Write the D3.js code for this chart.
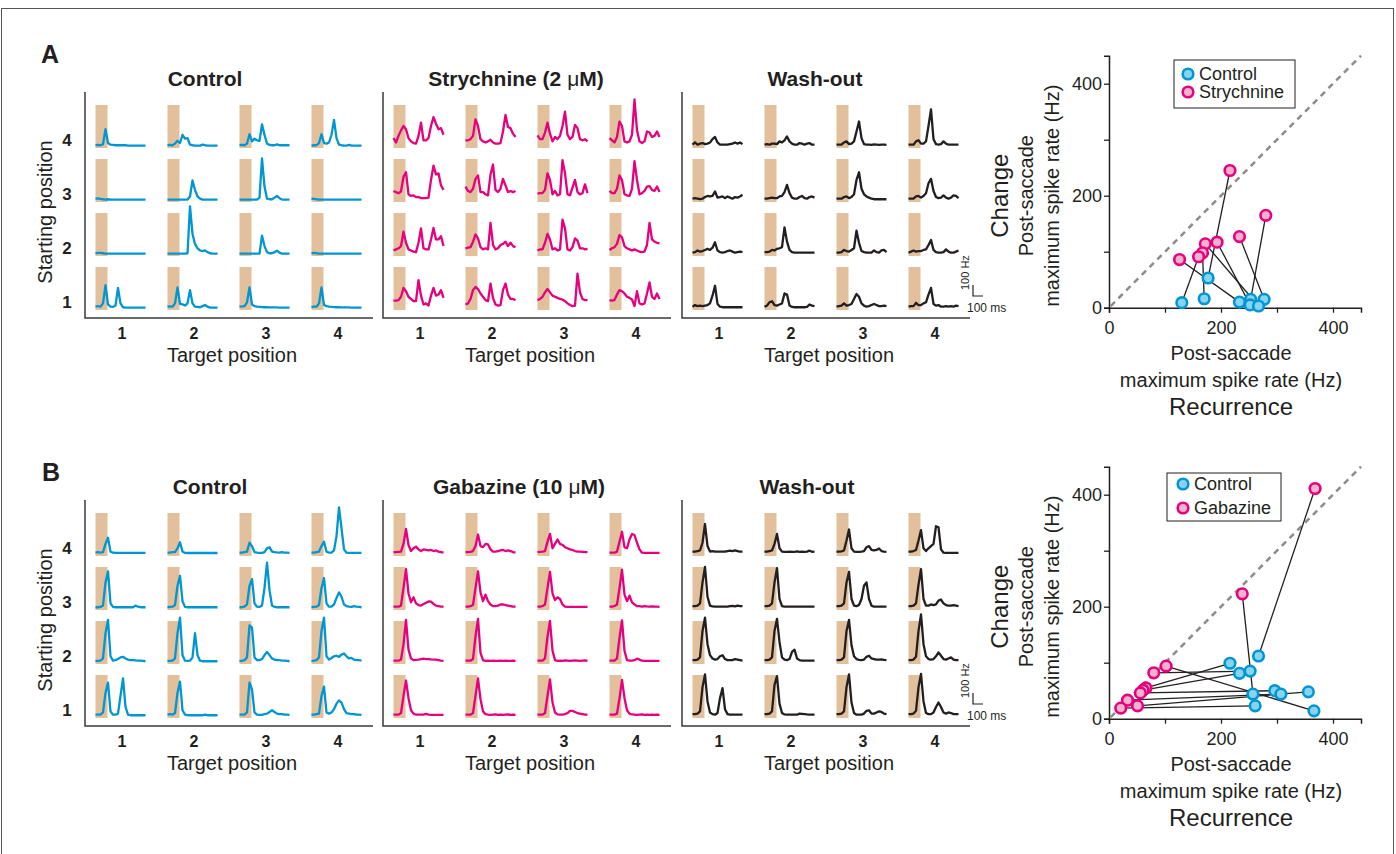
<!DOCTYPE html>
<html>
<head>
<meta charset="utf-8">
<script src="https://cdn.jsdelivr.net/npm/d3@7"></script>
<style>
    body { margin: 0; background: #fff; }
    svg text { font-family: "Liberation Sans", Arial, Helvetica, sans-serif; fill: #231f20; }
</style>
</head>
<body>
<div id="chart"></div>
<script>
'use strict';

/*
Data
 */

// Trace grids: rows = starting position 4 -> 1 (top to bottom), cols = target position 1 -> 4
const startPositions = [4, 3, 2, 1];
const targetPositions = [1, 2, 3, 4];
const sampleTimes = d3.range(0, 501, 25); // ms, 21 samples per trace
const saccadeWindow = [0, 120]; // ms, shaded box

// Spike rate (Hz) per sample
const controlA = [
    [[25,28,25,35,170,45,30,28,25,25,25,25,25,22,22,22,22,22,22,22,22],
     [25,28,25,40,65,45,120,85,90,30,25,22,22,22,30,25,22,22,22,22,22],
     [27,28,25,40,125,60,85,70,65,215,120,40,28,25,25,32,25,25,25,25,25],
     [22,25,25,45,125,45,40,50,120,255,90,30,25,22,22,28,22,22,22,22,22]],
    [[30,32,28,25,22,25,22,22,22,22,22,22,22,22,22,22,22,22,22,22,22],
     [22,22,22,22,22,22,22,22,22,50,195,110,50,30,22,22,22,22,22,22,22],
     [22,22,22,22,22,22,22,22,40,395,140,30,25,25,40,55,35,22,22,22,22],
     [30,28,25,22,22,22,22,22,22,22,22,22,22,22,22,22,22,22,22,22,22]],
    [[25,28,28,25,22,22,22,22,22,22,22,22,22,22,22,22,22,22,22,22,22],
     [22,22,22,22,22,22,22,22,25,450,200,110,70,50,45,50,35,25,22,22,22],
     [22,22,22,22,22,22,22,22,22,185,90,35,25,25,35,48,30,22,22,22,22],
     [25,28,25,22,22,22,22,22,22,22,22,22,22,22,22,22,22,22,22,22,22]],
    [[30,35,30,60,225,50,30,28,40,200,60,25,22,22,22,22,22,22,22,22,22],
     [30,32,30,60,205,55,52,40,60,180,60,30,28,25,35,45,30,22,22,22,22],
     [30,32,35,70,205,50,35,30,28,26,25,25,24,24,23,23,22,22,22,22,22],
     [25,30,30,60,205,45,35,30,28,26,25,25,24,24,23,23,22,22,22,22,22]]
];
const strychnineA = [
    [[90,50,110,160,200,170,90,60,45,40,110,230,70,70,90,200,280,220,170,180,120],
     [70,70,80,110,260,200,80,60,50,60,75,50,40,40,45,150,300,190,180,130,100],
     [115,80,80,140,230,130,60,100,80,110,200,330,120,80,100,210,180,80,70,80,60],
     [90,70,50,100,240,200,60,50,60,120,440,160,60,45,60,150,140,100,110,150,100]],
    [[100,90,80,95,230,270,70,55,60,45,45,35,35,35,40,200,330,250,260,150,110],
     [140,100,90,120,210,240,90,90,70,60,250,340,110,90,120,210,150,90,100,90,100],
     [75,80,80,110,260,200,70,100,60,70,380,260,70,60,130,200,90,70,80,160,80],
     [100,80,80,120,240,200,70,60,55,120,370,200,70,80,100,140,145,110,100,140,90]],
    [[50,60,70,90,220,120,60,50,40,35,120,250,70,60,60,150,255,150,150,180,90],
     [70,75,80,130,195,160,80,60,70,60,300,100,60,70,100,110,130,90,120,90,80],
     [50,60,60,120,200,150,60,70,50,60,330,250,60,50,80,160,140,70,70,60,65],
     [55,70,80,110,190,170,90,70,60,50,60,50,40,35,40,100,300,150,130,120,115]],
    [[85,85,90,120,200,170,120,100,80,80,270,130,50,60,40,130,200,130,140,180,110],
     [50,60,100,180,210,190,150,120,90,80,240,110,50,40,45,180,240,140,100,100,90],
     [90,100,120,160,190,160,130,120,110,100,95,80,60,45,35,40,330,160,100,90,90],
     [90,85,90,140,180,170,150,120,110,95,35,170,60,50,60,150,250,120,100,150,100]]
];
const washoutA = [
    [[30,50,30,40,45,35,40,50,80,100,50,30,30,30,30,35,40,50,40,50,35],
     [30,35,30,40,40,35,60,50,70,105,60,40,30,30,45,40,30,40,45,30,30],
     [30,30,30,50,60,35,40,60,150,240,90,35,30,30,28,32,30,28,30,30,28],
     [30,30,30,60,70,40,40,60,200,350,80,35,30,35,60,40,30,30,30,30,30]],
    [[30,35,30,25,30,45,55,50,55,95,40,45,50,35,50,40,30,45,40,50,65],
     [30,30,35,40,35,35,50,55,90,155,80,40,30,30,45,55,35,30,45,50,40],
     [30,30,30,45,50,35,45,70,200,270,120,70,50,40,30,25,25,25,25,25,25],
     [30,30,30,50,55,40,55,80,170,210,100,45,35,40,60,40,30,40,60,55,35]],
    [[30,35,50,40,45,55,65,55,75,125,50,35,30,35,45,50,40,30,35,40,35],
     [35,35,40,55,50,65,70,80,260,130,55,35,30,30,30,30,30,30,30,30,30],
     [30,30,35,55,45,40,55,70,230,120,45,35,30,30,30,50,35,30,50,55,35],
     [30,40,50,40,45,45,55,60,100,145,55,35,30,30,35,60,40,30,30,40,50]],
    [[30,45,35,40,35,40,45,60,130,220,55,30,25,25,25,25,25,25,25,25,25],
     [30,40,70,80,45,40,50,60,150,140,40,28,25,25,25,25,25,28,50,40,35],
     [30,35,40,60,40,45,55,100,145,120,60,40,30,35,45,55,45,35,35,40,35],
     [30,35,35,65,45,45,60,70,140,200,55,40,45,30,30,35,30,35,30,40,35]]
];
const controlB = [
    [[30,35,30,35,110,165,40,30,28,28,28,28,28,28,28,28,28,28,28,28,28],
     [30,30,35,35,70,125,40,28,27,27,27,27,27,27,27,27,27,27,27,27,27],
     [30,30,35,40,120,90,35,30,28,28,35,70,80,40,35,32,30,35,30,30,28],
     [30,30,35,40,90,130,40,30,30,50,180,440,250,60,30,28,28,28,28,28,28]],
    [[25,25,28,40,250,350,60,28,25,25,25,25,25,25,25,25,40,30,25,25,25],
     [25,28,30,45,220,310,80,28,25,25,25,25,25,25,25,25,25,25,25,25,25],
     [25,25,30,50,220,280,60,30,28,40,200,430,180,40,28,25,25,25,25,25,25],
     [25,28,30,45,200,290,60,30,30,50,110,160,120,50,35,30,28,35,30,28,25]],
    [[28,28,30,50,280,400,70,30,35,45,60,65,50,40,35,35,32,30,30,28,25],
     [28,28,30,50,280,420,80,30,28,30,60,280,80,30,25,25,25,25,25,25,25],
     [28,28,35,60,350,330,60,35,35,45,80,110,80,50,40,35,35,30,30,28,25],
     [28,30,35,60,300,420,70,40,55,70,75,65,85,95,70,50,55,40,35,35,30]],
    [[30,30,30,50,230,320,60,30,30,40,200,360,100,30,25,25,25,25,25,25,25],
     [30,35,30,45,230,330,70,30,25,25,25,25,25,25,25,30,25,25,25,25,25],
     [30,30,30,50,320,260,50,30,28,28,35,40,55,70,55,40,35,35,30,30,28],
     [30,30,35,40,200,285,50,40,50,80,130,160,140,80,45,40,35,35,30,30,28]]
];
const gabazineB = [
    [[35,35,38,40,110,245,100,45,70,85,60,45,60,55,50,55,45,50,40,35,30],
     [35,35,38,45,90,195,90,80,110,105,60,40,40,45,50,55,45,50,45,35,30],
     [35,38,40,45,130,200,70,110,150,110,100,80,70,60,55,45,40,40,38,35,35],
     [30,30,30,40,130,220,80,70,150,200,190,120,60,30,28,28,28,28,28,28,28]],
    [[30,30,30,40,200,370,150,70,115,60,45,40,55,65,78,75,55,40,35,30,30],
     [30,30,35,45,200,350,160,80,140,80,50,35,35,40,50,50,45,40,35,30,30],
     [30,30,35,50,200,345,150,90,115,100,50,30,28,28,28,28,28,28,28,28,28],
     [30,30,35,50,200,365,140,80,130,70,50,35,35,30,35,32,30,32,30,30,28]],
    [[30,30,30,40,180,400,130,50,35,38,40,45,48,45,45,42,40,40,35,30,28],
     [30,30,30,45,250,410,100,35,28,30,28,30,28,28,30,28,30,28,28,30,28],
     [30,30,30,50,250,390,120,35,28,30,28,32,30,28,30,32,30,28,30,32,28],
     [30,30,30,50,240,395,120,35,30,30,35,48,40,30,28,28,28,28,28,28,28]],
    [[30,30,30,45,200,340,180,70,40,30,30,30,30,38,30,28,28,28,28,28,28],
     [30,30,30,45,200,360,170,60,35,30,28,30,32,28,30,28,30,32,28,30,28],
     [30,30,30,45,200,350,140,50,32,30,30,35,45,65,65,55,45,40,35,30,30],
     [30,30,30,40,180,345,180,70,40,32,30,28,30,32,28,30,28,30,28,30,28]]
];
const washoutB = [
    [[40,40,45,50,120,290,90,40,45,40,40,40,40,40,45,48,45,50,45,40,40],
     [40,40,45,50,110,200,70,40,38,38,40,38,38,42,38,40,38,40,48,38,40],
     [40,40,42,50,140,240,70,40,38,38,40,45,80,90,55,50,55,68,45,40,38],
     [40,40,45,55,140,235,70,45,70,90,110,270,260,60,30,28,28,28,28,28,28]],
    [[35,35,40,60,250,390,120,40,32,30,30,30,30,30,30,35,38,33,40,35,35],
     [35,35,40,60,250,380,100,35,30,30,30,30,30,30,30,30,30,30,30,30,30],
     [35,35,40,60,250,345,100,40,35,45,100,220,250,100,40,30,30,30,30,30,30],
     [35,35,40,60,230,370,100,40,40,50,45,50,85,95,60,45,40,40,45,40,35]],
    [[35,35,40,60,300,420,180,80,50,40,45,70,80,45,35,35,35,45,40,35,30],
     [35,35,40,60,300,410,200,60,40,35,45,110,130,50,35,30,30,30,30,30,30],
     [35,35,40,60,300,400,170,70,45,38,35,40,65,75,50,45,40,40,42,38,35],
     [35,35,40,65,300,450,180,70,45,40,45,70,105,75,45,40,50,60,40,35,35]],
    [[35,35,40,60,280,395,150,50,35,30,45,180,270,80,35,30,30,30,30,30,30],
     [35,35,40,60,300,380,130,45,32,30,30,30,30,30,40,38,35,32,30,30,30],
     [35,35,40,60,280,395,140,45,30,30,30,40,65,70,40,40,50,60,55,40,35],
     [35,35,40,65,280,400,150,45,35,35,50,100,140,100,50,40,50,45,35,35,35]]
];

// Scatter: [recurrence rate, change rate] in Hz; same index = same cell
const scatterStrychnineA = [[216,245],[280,165],[233,127],[193,117],[172,114],[167,98],[160,91],[126,86]];
const scatterControlA = [[177,53],[253,15],[277,15],[252,5],[267,3],[170,16],[130,9],[233,10]];
const scatterGabazineB = [[368,411],[238,223],[102,94],[80,82],[66,55],[61,51],[56,46],[33,33],[51,23],[21,19]];
const scatterControlB = [[267,112],[257,44],[366,14],[252,85],[216,99],[233,81],[296,50],[307,44],[356,48],[261,23]];
const scatterTicks = [0, 100, 200, 300, 400];
const scatterTickLabels = [0, 200, 400];

/*
Config
 */
const svgW = 1396;
const svgH = 854;
const ink = '#231f20';
const blue = '#0096d2';
const magenta = '#e6007e';
const tan = '#e2c09b';
const blueFill = '#86d3f2';
const pinkFill = '#f4b2cf';

// Tools
const tScale = d3.scaleLinear().domain([0, 500]).range([0, 50]);
const rateScale = d3.scaleLinear().domain([0, 390]).range([0, -43]);
const traceLine = d3.line()
    .x((d, i) => tScale(sampleTimes[i]))
    .y(d => rateScale(d));

const tracePanels = [
    {data: controlA, color: blue, x: 85, y: 92, title: [['Control', 'bold']], titleX: 205, rowLabels: true},
    {data: strychnineA, color: magenta, x: 383, y: 92, title: [['Strychnine (2 ', 'bold'], ['\u03bc', 'normal'], ['M)', 'bold']], titleX: 516},
    {data: washoutA, color: ink, x: 682, y: 92, title: [['Wash-out', 'bold']], titleX: 815, scaleBar: true},
    {data: controlB, color: blue, x: 85, y: 500, title: [['Control', 'bold']], titleX: 210, rowLabels: true},
    {data: gabazineB, color: magenta, x: 383, y: 500, title: [['Gabazine (10 ', 'bold'], ['\u03bc', 'normal'], ['M)', 'bold']], titleX: 519},
    {data: washoutB, color: ink, x: 682, y: 500, title: [['Wash-out', 'bold']], titleX: 807, scaleBar: true}
];

const scatterPanels = [
    {x0: 1109, y0: 307.7, ctrl: scatterControlA, drug: scatterStrychnineA, drugName: 'Strychnine',
        legend: {x: 1174, y: 60, w: 121, h: 48, cx: 1188, ys: [74, 92]}},
    {x0: 1109, y0: 718.7, ctrl: scatterControlB, drug: scatterGabazineB, drugName: 'Gabazine',
        legend: {x: 1167, y: 473, w: 114, h: 48, cx: 1183, ys: [484, 508]}}
];

/*
Setup
 */
const svg = d3.select('#chart')
    .append('svg')
    .attr('width', svgW)
    .attr('height', svgH);

svg.append('rect')
    .attr('x', 1.5).attr('y', 8.5)
    .attr('width', 1392).attr('height', 860)
    .attr('fill', 'none').attr('stroke', '#555').attr('stroke-width', 1);

// Panel letters
svg.append('text').attr('x', 41).attr('y', 63).attr('font-size', 25).attr('font-weight', 'bold').text('A');
svg.append('text').attr('x', 42).attr('y', 481).attr('font-size', 25).attr('font-weight', 'bold').text('B');

tracePanels.forEach(drawTracePanel);
scatterPanels.forEach(drawScatter);

/*
drawTracePanel
 */
function drawTracePanel(p) {
    const g = svg.append('g').attr('class', 'tracePanel');
    const colX = d3.scaleLinear().domain([0, 3]).range([p.x + 10.5, p.x + 10.5 + 216]);
    const rowY = d3.scaleLinear().domain([0, 3]).range([p.y + 56, p.y + 56 + 162]);
    const axisY = p.y + 226;

    // Cells
    startPositions.forEach((sp, ri) => {
        targetPositions.forEach((tp, ci) => {
            const cell = g.append('g')
                .attr('transform', `translate(${colX(ci)},${rowY(ri)})`);
            cell.append('rect')
                .attr('x', tScale(saccadeWindow[0]))
                .attr('y', rateScale(390))
                .attr('width', tScale(saccadeWindow[1]) - tScale(saccadeWindow[0]))
                .attr('height', -rateScale(390))
                .attr('fill', tan);
            cell.append('path')
                .datum(p.data[ri][ci])
                .attr('d', traceLine)
                .attr('fill', 'none')
                .attr('stroke', p.color)
                .attr('stroke-width', 2.3)
                .attr('stroke-linejoin', 'round');
        });
    });

    // Axes
    g.append('path')
        .attr('d', `M${p.x},${p.y}V${axisY}H${p.x + 288}`)
        .attr('fill', 'none').attr('stroke', '#3a3a3a').attr('stroke-width', 1.5);

    // Target labels
    g.selectAll('.colLabel')
        .data(targetPositions)
        .join('text')
        .attr('class', 'colLabel')
        .attr('x', (d, i) => colX(i) + 26.5)
        .attr('y', axisY + 21)
        .attr('text-anchor', 'middle')
        .attr('font-size', 16)
        .attr('font-weight', 'bold')
        .text(d => d);
    g.append('text')
        .attr('x', p.x + 147).attr('y', axisY + 44)
        .attr('text-anchor', 'middle').attr('font-size', 20)
        .text('Target position');

    // Title
    const title = g.append('text')
        .attr('x', p.titleX).attr('y', p.y - 6)
        .attr('text-anchor', 'middle').attr('font-size', 21);
    p.title.forEach(part => title.append('tspan').attr('font-weight', part[1]).text(part[0]));

    // Starting positions
    if (p.rowLabels) {
        g.selectAll('.rowLabel')
            .data(startPositions)
            .join('text')
            .attr('class', 'rowLabel')
            .attr('x', p.x - 18)
            .attr('y', (d, i) => rowY(i) - 2)
            .attr('text-anchor', 'middle')
            .attr('font-size', 17)
            .attr('font-weight', 'bold')
            .text(d => d);
        g.append('text')
            .attr('transform', `translate(52,${p.y + 120}) rotate(-90)`)
            .attr('text-anchor', 'middle').attr('font-size', 20)
            .text('Starting position');
    }

    // Scale bar
    if (p.scaleBar) {
        const bx = p.x + 291;
        const by = rowY(3) - 14;
        g.append('path')
            .attr('d', `M${bx},${by + rateScale(100)}V${by}H${bx + tScale(100) - tScale(0)}`)
            .attr('fill', 'none').attr('stroke', ink).attr('stroke-width', 1.2);
        g.append('text')
            .attr('transform', `translate(${bx - 4},${by - 6}) rotate(-90)`)
            .attr('font-size', 11)
            .text('100 Hz');
        g.append('text')
            .attr('x', bx - 6).attr('y', by + 16)
            .attr('font-size', 12)
            .text('100 ms');
    }
}

/*
drawScatter
 */
function drawScatter(s) {
    const g = svg.append('g').attr('class', 'scatter');
    const x = d3.scaleLinear().domain([0, 450]).range([s.x0, s.x0 + 252]);
    const y = d3.scaleLinear().domain([0, 450]).range([s.y0, s.y0 - 252]);
    const fmt = d => scatterTickLabels.includes(d) ? d : '';

    // Axes
    const xAxis = g.append('g')
        .attr('transform', `translate(0,${s.y0})`)
        .call(d3.axisBottom(x).tickValues(scatterTicks).tickFormat(fmt).tickSizeOuter(0).tickSize(5).tickPadding(9));
    const yAxis = g.append('g')
        .attr('transform', `translate(${s.x0},0)`)
        .call(d3.axisLeft(y).tickValues(scatterTicks).tickFormat(fmt).tickSizeOuter(0).tickSize(5).tickPadding(2));
    [xAxis, yAxis].forEach(a => {
        a.select('.domain').attr('stroke', ink).attr('stroke-width', 1.5);
        a.selectAll('.tick line').attr('stroke', ink).attr('stroke-width', 1.3);
        a.selectAll('.tick text')
            .attr('font-size', 18)
            .attr('font-family', '"Liberation Sans", Arial, sans-serif')
            .attr('fill', ink);
    });

    // Unity line
    g.append('line')
        .attr('x1', x(3)).attr('y1', y(3))
        .attr('x2', x(450)).attr('y2', y(450))
        .attr('stroke', '#8c8c8c').attr('stroke-width', 2.5)
        .attr('stroke-dasharray', '6,5');

    // Pair links
    g.selectAll('.pairLine')
        .data(s.drug)
        .join('line')
        .attr('class', 'pairLine')
        .attr('x1', d => x(d[0])).attr('y1', d => y(d[1]))
        .attr('x2', (d, i) => x(s.ctrl[i][0])).attr('y2', (d, i) => y(s.ctrl[i][1]))
        .attr('stroke', ink).attr('stroke-width', 1.3);

    // Points
    g.selectAll('.ctrlDot')
        .data(s.ctrl)
        .join('circle')
        .attr('class', 'ctrlDot')
        .attr('cx', d => x(d[0])).attr('cy', d => y(d[1]))
        .attr('r', 5.3)
        .attr('fill', blueFill).attr('stroke', blue).attr('stroke-width', 2.6);
    g.selectAll('.drugDot')
        .data(s.drug)
        .join('circle')
        .attr('class', 'drugDot')
        .attr('cx', d => x(d[0])).attr('cy', d => y(d[1]))
        .attr('r', 5.3)
        .attr('fill', pinkFill).attr('stroke', magenta).attr('stroke-width', 2.6);

    // Legend
    const L = s.legend;
    g.append('rect')
        .attr('x', L.x).attr('y', L.y).attr('width', L.w).attr('height', L.h)
        .attr('fill', '#fff').attr('stroke', ink).attr('stroke-width', 1);
    [['Control', blueFill, blue], [s.drugName, pinkFill, magenta]].forEach((e, i) => {
        g.append('circle')
            .attr('cx', L.cx).attr('cy', L.ys[i]).attr('r', 5.3)
            .attr('fill', e[1]).attr('stroke', e[2]).attr('stroke-width', 2.6);
        g.append('text')
            .attr('x', L.cx + 11).attr('y', L.ys[i] + 6)
            .attr('font-size', 18)
            .text(e[0]);
    });

    // Axis labels
    const cx = s.x0 + 122;
    g.append('text').attr('x', cx).attr('y', s.y0 + 52).attr('text-anchor', 'middle').attr('font-size', 20).text('Post-saccade');
    g.append('text').attr('x', cx).attr('y', s.y0 + 79).attr('text-anchor', 'middle').attr('font-size', 20).text('maximum spike rate (Hz)');
    g.append('text').attr('x', cx).attr('y', s.y0 + 107).attr('text-anchor', 'middle').attr('font-size', 24).text('Recurrence');

    const cy = s.y0 - 112;
    [['Change', -101, 24], ['Post-saccade', -76, 20], ['maximum spike rate (Hz)', -50, 20]].forEach(l => {
        g.append('text')
            .attr('transform', `translate(${s.x0 + l[1]},${cy}) rotate(-90)`)
            .attr('text-anchor', 'middle')
            .attr('font-size', l[2])
            .text(l[0]);
    });
}
</script>
</body>
</html>
